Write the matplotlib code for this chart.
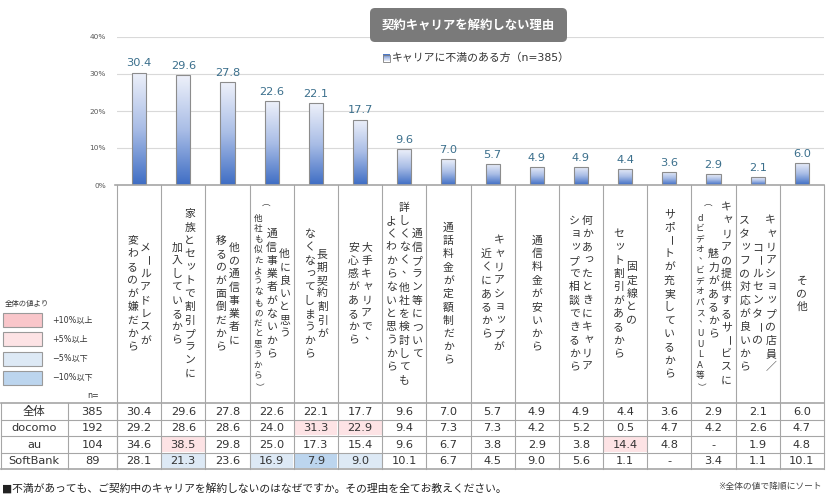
import numpy as np
import matplotlib.pyplot as plt
from matplotlib.colors import LinearSegmentedColormap
from matplotlib.patches import Rectangle, FancyBboxPatch

plt.rcParams["font.family"] = ["DejaVu Sans", "Noto Sans CJK JP"]

# --- data -------------------------------------------------------------
title = "契約キャリアを解約しない理由"
series_name = "キャリアに不満のある方（n=385）"

# each category = vertical lines, read right to left
categories = [
    ["メールアドレスが", "変わるのが嫌だから"],
    ["家族とセットで割引プランに", "加入しているから"],
    ["他の通信事業者に", "移るのが面倒だから"],
    ["他に良いと思う", "通信事業者がないから", "（他社も似たようなものだと思うから）"],
    ["長期契約割引が", "なくなってしまうから"],
    ["大手キャリアで、", "安心感があるから"],
    ["通信プラン等について", "詳しくなく、他社を検討しても", "よくわからないと思うから"],
    ["通話料金が定額制だから"],
    ["キャリアショップが", "近くにあるから"],
    ["通信料金が安いから"],
    ["何かあったときにキャリア", "ショップで相談できるから"],
    ["固定線との", "セット割引があるから"],
    ["サポートが充実しているから"],
    ["キャリアの提供するサービスに", "魅力があるから", "（dビデオ、ビデオパス、UULA等）"],
    ["キャリアショップの店員／", "コールセンターの", "スタッフの対応が良いから"],
    ["その他"],
]

overall = [30.4, 29.6, 27.8, 22.6, 22.1, 17.7, 9.6, 7.0, 5.7, 4.9, 4.9, 4.4, 3.6, 2.9, 2.1, 6.0]
docomo = [29.2, 28.6, 28.6, 24.0, 31.3, 22.9, 9.4, 7.3, 7.3, 4.2, 5.2, 0.5, 4.7, 4.2, 2.6, 4.7]
au = [34.6, 38.5, 29.8, 25.0, 17.3, 15.4, 9.6, 6.7, 3.8, 2.9, 3.8, 14.4, 4.8, None, 1.9, 4.8]
softbank = [28.1, 21.3, 23.6, 16.9, 7.9, 9.0, 10.1, 6.7, 4.5, 9.0, 5.6, 1.1, None, 3.4, 1.1, 10.1]

row_labels = ["全体", "docomo", "au", "SoftBank"]
row_n = [385, 192, 104, 89]
yticks = [0, 10, 20, 30, 40]

key_title = "全体の値より"
key_labels = ["+10%以上", "+5%以上", "−5%以下", "−10%以下"]
key_colors = ["#f9c6ca", "#fde3e5", "#dde9f5", "#bcd5ee"]

footnote = "■不満があっても、ご契約中のキャリアを解約しないのはなぜですか。その理由を全てお教えください。"
sort_note = "※全体の値で降順にソート"

# --- layout (pixels) ----------------------------------------------------
W, H = 826, 497
X0, X1 = 117, 824
Y_TOP, Y_BASE = 37, 185
TABLE_TOP, ROW_H = 403, 16.5
NCOL = len(overall)
col_w = (X1 - X0) / NCOL
line_col = "#a6a6a6"
text_col = "#333333"

bar_cmap = LinearSegmentedColormap.from_list("bar", ["#3e6dc4", "#a9bde6", "#eef1fa"])
grad = np.linspace(0, 1, 256).reshape(-1, 1)

fig = plt.figure(figsize=(W / 100, H / 100), dpi=100)

# --- bar chart ----------------------------------------------------------
ax = fig.add_axes([X0 / W, (H - Y_BASE) / H, (X1 - X0) / W, (Y_BASE - Y_TOP) / H])
x = np.arange(NCOL)
bars = ax.bar(x, overall, width=0.32, facecolor="none", edgecolor="#8c8c8c", linewidth=0.8, zorder=3)
for b, v in zip(bars, overall):
    im = ax.imshow(grad, extent=[b.get_x(), b.get_x() + b.get_width(), 0, v],
                   origin="lower", aspect="auto", cmap=bar_cmap, zorder=2)
    im.set_clip_path(b)
    ax.annotate(f"{v:.1f}", (b.get_x() + b.get_width() / 2, v), xytext=(0, 3),
                textcoords="offset points", ha="center", va="bottom",
                fontsize=8.2, color="#3b6f8c")
ax.set_xlim(-0.5, NCOL - 0.5)
ax.set_ylim(0, 40)
ax.set_yticks(yticks)
ax.set_yticklabels([f"{t}%" for t in yticks], fontsize=5.3, color="#595959")
ax.tick_params(axis="y", length=0, pad=8)
ax.set_xticks([])
ax.yaxis.grid(True, color="#d9d9d9", linewidth=0.8)
ax.set_axisbelow(True)
for s in ax.spines.values():
    s.set_visible(False)
ax.patch.set_alpha(0)

# --- overlay in pixel coordinates ----------------------------------------
ov = fig.add_axes([0, 0, 1, 1], zorder=5)
ov.set_xlim(0, W)
ov.set_ylim(H, 0)
ov.axis("off")

# title box
ov.add_patch(FancyBboxPatch((370, 8), 197, 34, boxstyle="round,pad=0,rounding_size=5",
                            facecolor="#7a7a7a", edgecolor="none"))
ov.text(468, 25, title, fontsize=8.9, fontweight="bold", color="white", ha="center", va="center")

# series legend
ov.imshow(grad, extent=[383, 390, 61.5, 54.5], origin="upper", aspect="auto", cmap=bar_cmap, zorder=3)
ov.add_patch(Rectangle((383, 54.5), 7, 7, facecolor="none", edgecolor="#7f7f7f", linewidth=0.6, zorder=4))
ov.text(392, 58, series_name, fontsize=7.8, color=text_col, ha="left", va="center")
ov.set_xlim(0, W)
ov.set_ylim(H, 0)

# vertical category labels
ROT = set("ー（）")
SMALL_KANA = set("ャュョッァィゥェォゃゅょっ")


def vertical_line(xc, text, yc, size, pitch):
    y = yc - pitch * (len(text) - 1) / 2
    s = size / 7.8
    for ch in text:
        dx, dy, rot = 0, 0, 0
        if ch in ROT:
            rot = -90
        elif ch in "、。":
            dx, dy = 3 * s, -4 * s
        elif ch in SMALL_KANA:
            dx, dy = 1.2 * s, -1.5 * s
        ov.text(xc + dx, y + dy, ch, fontsize=size, rotation=rot, ha="center",
                va="center", color=text_col)
        y += pitch


for i, lines in enumerate(categories):
    cx = X0 + (i + 0.5) * col_w
    n = len(lines)
    gap = 13
    for k, line in enumerate(lines):
        lx = cx + (n - 1) / 2 * gap - k * gap
        if line.startswith("（"):
            vertical_line(lx - 0.5, line, 297, 6.2, 10.5)
        else:
            vertical_line(lx, line, 294, 7.8, 13.3)

# column separators through label area and table
table_bottom = TABLE_TOP + ROW_H * len(row_labels)
for i in range(NCOL + 1):
    xl = X0 + i * col_w
    ov.plot([xl, xl], [Y_BASE, table_bottom], color=line_col, linewidth=0.8)
ov.plot([X0 - 2, X1], [Y_BASE, Y_BASE], color=line_col, linewidth=1.2)

# colour key
ov.text(5, 303, key_title, fontsize=5.3, color=text_col, ha="left", va="center")
for j, (lab, c) in enumerate(zip(key_labels, key_colors)):
    yk = 313 + j * 19.3
    ov.add_patch(Rectangle((3, yk), 39, 14, facecolor=c, edgecolor="#9a9a9a", linewidth=0.8))
    ov.text(52, yk + 7, lab, fontsize=5.8, color=text_col, ha="left", va="center")
ov.text(99, 396, "n=", fontsize=5.8, color=text_col, ha="right", va="center")

# table
table_rows = [overall, docomo, au, softbank]


def level(v, base):
    if v is None:
        return None
    d = round(v - base, 1)
    if d > 10:
        return 0
    if d >= 5:
        return 1
    if d < -10:
        return 3
    if d <= -5:
        return 2
    return None


for r, (lab, n, vals) in enumerate(zip(row_labels, row_n, table_rows)):
    yt = TABLE_TOP + r * ROW_H
    yc = yt + ROW_H / 2
    for i, v in enumerate(vals):
        lv = level(v, overall[i]) if r > 0 else None
        if lv is not None:
            ov.add_patch(Rectangle((X0 + i * col_w + 0.6, yt + 0.6), col_w - 1.2, ROW_H - 1.2,
                                   facecolor=key_colors[lv], edgecolor="none", zorder=1))
        ov.text(X0 + (i + 0.5) * col_w, yc + 0.5, "-" if v is None else f"{v:.1f}",
                fontsize=8.2, color=text_col, ha="center", va="center", zorder=3)
    ov.text(34, yc + 0.5, lab, fontsize=8.2, color=text_col, ha="center", va="center")
    ov.text(92.5, yc + 0.5, str(n), fontsize=8.2, color=text_col, ha="center", va="center")

for r in range(len(row_labels) + 1):
    yl = TABLE_TOP + r * ROW_H
    lw = 1.2 if r in (0, len(row_labels)) else 0.8
    ov.plot([1, X1], [yl, yl], color=line_col, linewidth=lw, zorder=2)
for xl in (1, 68, X0):
    ov.plot([xl, xl], [TABLE_TOP, table_bottom], color=line_col, linewidth=0.8, zorder=2)

# notes
ov.text(2, 488, footnote, fontsize=7.75, color="#222222", ha="left", va="center")
ov.text(822, 487, sort_note, fontsize=6.3, color="#444444", ha="right", va="center")

fig.savefig("out.png", dpi=100)
